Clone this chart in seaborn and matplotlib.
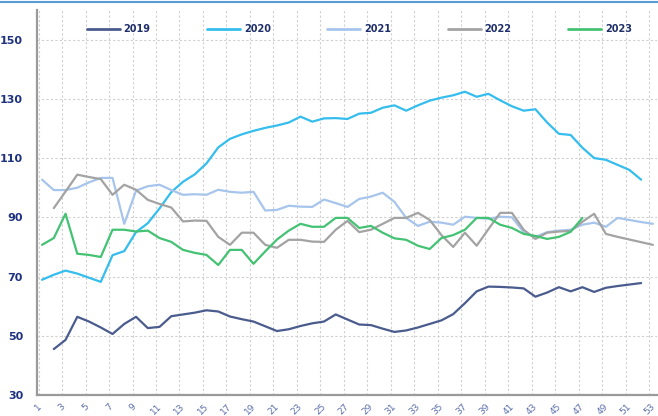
import matplotlib
matplotlib.use("Agg")
import matplotlib.pyplot as plt
from matplotlib.lines import Line2D
import seaborn as sns
import pandas as pd
import numpy as np

# ---- data ----
years = ["2019", "2020", "2021", "2022", "2023"]
start_week = {"2019": 2, "2020": 1, "2021": 1, "2022": 2, "2023": 1}

v2019 = [45.5, 48.6, 56.4, 54.8, 52.8, 50.6, 54.0, 56.4, 52.6, 53.0,
         56.6, 57.2, 57.8, 58.6, 58.2, 56.5, 55.6, 54.8, 53.2, 51.6,
         52.2, 53.3, 54.2, 54.8, 57.2, 55.5, 53.8, 53.6, 52.4, 51.3,
         51.8, 52.8, 54.0, 55.2, 57.3, 61.0, 65.0, 66.6, 66.5, 66.3,
         66.0, 63.2, 64.6, 66.4, 65.0, 66.4, 64.8, 66.2, 66.8, 67.3, 67.8]
v2020 = [68.9, 70.6, 72.0, 71.0, 69.6, 68.2, 77.2, 78.6, 85.0, 88.0,
         93.0, 98.5, 102.0, 104.5, 108.2, 113.6, 116.5, 118.0, 119.2, 120.2,
         121.0, 122.0, 124.0, 122.3, 123.4, 123.5, 123.2, 125.0, 125.3, 127.0,
         127.8, 126.0, 127.8, 129.4, 130.4, 131.2, 132.4, 130.7, 131.7, 129.5,
         127.5, 126.0, 126.5, 122.0, 118.2, 117.8, 113.5, 110.0, 109.4, 107.7,
         106.0, 102.7]
v2021 = [102.7, 99.2, 99.2, 100.0, 101.8, 103.3, 103.3, 87.8, 99.0, 100.5,
         101.0, 99.2, 97.6, 97.8, 97.6, 99.3, 98.6, 98.3, 98.6, 92.3,
         92.5, 93.9, 93.6, 93.5, 96.0, 94.8, 93.5, 96.2, 97.0, 98.3,
         95.2, 89.8, 87.1, 88.5, 88.2, 87.5, 90.2, 89.8, 89.5, 90.2,
         90.0, 85.0, 83.4, 85.0, 85.5, 85.8, 87.5, 88.2, 86.8, 89.8,
         89.1, 88.4, 87.8]
v2022 = [93.1, 98.7, 104.4, 103.6, 102.9, 97.6, 101.0, 99.3, 95.9, 94.5,
         93.3, 88.6, 88.9, 88.8, 83.4, 80.7, 84.8, 84.8, 80.7, 79.7,
         82.4, 82.4, 81.8, 81.7, 85.8, 88.8, 85.0, 85.8, 87.8, 89.8,
         89.8, 91.5, 89.1, 84.0, 80.0, 84.8, 80.4, 86.0, 91.5, 91.5,
         85.8, 82.7, 84.8, 85.2, 85.4, 88.5, 91.2, 84.4, 83.4, 82.5,
         81.6, 80.7]
v2023 = [80.7, 83.0, 91.2, 77.7, 77.3, 76.6, 85.8, 85.8, 85.2, 85.5,
         83.0, 81.7, 79.0, 78.0, 77.3, 73.9, 79.0, 79.0, 74.3, 78.5,
         82.5, 85.5, 87.8, 86.8, 86.8, 89.8, 89.8, 86.4, 87.1, 84.8,
         82.9, 82.4, 80.4, 79.3, 83.0, 84.0, 85.8, 89.8, 89.8, 87.5,
         86.4, 84.4, 83.7, 82.7, 83.4, 85.1, 89.8]

tick_weeks = list(range(1, 54, 2))
y_ticks = [30, 50, 70, 90, 110, 130, 150]

colors = {"2019": "#4a5b8e", "2020": "#35bdee", "2021": "#a7c5ec",
          "2022": "#a3a3a3", "2023": "#44c273"}

series = {"2019": v2019, "2020": v2020, "2021": v2021, "2022": v2022, "2023": v2023}
rows = []
for y in years:
    for i, val in enumerate(series[y]):
        rows.append({"week": start_week[y] + i, "value": val, "year": y})
df = pd.DataFrame(rows)

# ---- figure ----
sns.set_style("white")
fig = plt.figure(figsize=(6.58, 4.16), dpi=100)
W, H = 658, 416
ax = fig.add_axes([37 / W, (H - 395) / H, (657 - 37) / W, (395 - 10) / H])

sns.lineplot(data=df, x="week", y="value", hue="year", palette=colors,
             hue_order=years, linewidth=1.6, ax=ax, legend=False)

ax.set_xlim(0.57, 53.35)
ax.set_ylim(30, 160)
ax.set_xticks([w - 0.3 for w in tick_weeks])
ax.set_xticklabels([str(w) for w in tick_weeks], rotation=45, ha="center",
                   fontsize=6.5, color="#5a6eaa")
ax.set_yticks(y_ticks)
ax.set_yticklabels([str(v) for v in y_ticks], fontsize=8, fontweight="bold",
                   color="#1f3280")
ax.set_xlabel("")
ax.set_ylabel("")

ax.grid(True, axis="both", color="#cfcfcf", linestyle=(0, (2, 2)), linewidth=0.8)
ax.set_axisbelow(True)
for s in ["top", "right"]:
    ax.spines[s].set_visible(False)
for s in ["left", "bottom"]:
    ax.spines[s].set_color("#9a9a9a")
    ax.spines[s].set_linewidth(1.6)
ax.tick_params(axis="x", length=3, color="#9a9a9a", pad=2)
ax.tick_params(axis="y", length=0, pad=10)

handles = [Line2D([0], [0], color=colors[y], lw=2) for y in years]
leg = ax.legend(handles, years, ncol=5, loc="center", bbox_to_anchor=(0.52, 0.95),
                frameon=False, handlelength=3.4, handletextpad=0.4,
                columnspacing=5.8, prop={"size": 7, "weight": "bold"})
for t in leg.get_texts():
    t.set_color("#1f2f6b")

# top border line of the chart frame
fig.add_artist(Line2D([0, 1], [0.996, 0.996], transform=fig.transFigure,
                      color="#5b9bd5", lw=1.5))

fig.savefig("out.png", dpi=100)
